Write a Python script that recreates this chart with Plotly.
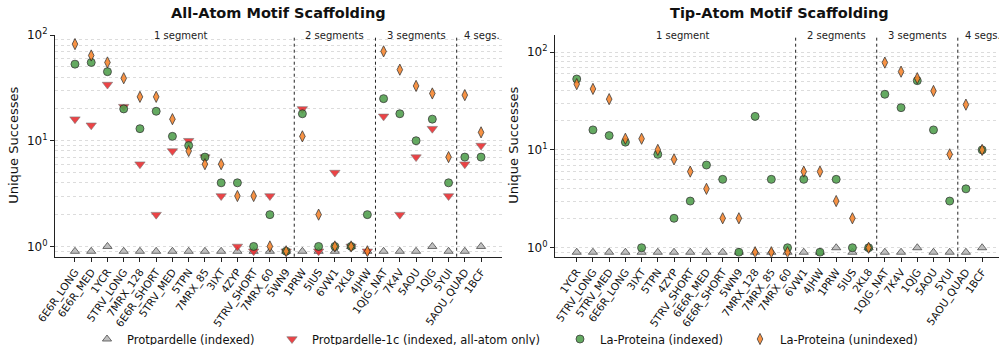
import math
import plotly.graph_objects as go

# ---------------- data ----------------
segment_labels = ["1 segment", "2 segments", "3 segments", "4 segs."]
segment_sizes = [14, 5, 5, 2]

aa_cats = ["6E6R_LONG", "6E6R_MED", "1YCR", "5TRV_LONG", "7MRX_128", "6E6R_SHORT",
           "5TRV_MED", "5TPN", "7MRX_85", "3IXT", "4ZYP", "5TRV_SHORT", "7MRX_60", "5WN9",
           "1PRW", "5IUS", "6VW1", "2KL8", "4JHW",
           "1QJG_NAT", "7K4V", "5AOU", "1QJG", "5YUI",
           "5AOU_QUAD", "1BCF"]
aa_protpardelle = [0, 0, 1, 0, 0, 0, 0, 0, 0, 0, 0, 0, 0, 0,
                   0, 0, 0, 1, 0,
                   0, 0, 0, 1, 0,
                   0, 1]
aa_protpardelle_1c = [16, 14, 34, 21, 6, 2, 8, 10, 7, 3, 1, 0, 3, 0,
                      20, 0, 5, 1, 0,
                      17, 2, 7, 13, 3,
                      6, 9]
aa_laprot_idx = [53, 55, 45, 20, 13, 19, 11, 9, 7, 4, 4, 1, 2, 0,
                 18, 1, 1, 1, 2,
                 25, 18, 10, 16, 4,
                 7, 7]
aa_laprot_unidx = [82, 64, 55, 39, 26, 26, 16, 8, 6, 6, 3, 3, 1, 0,
                   11, 2, 1, 1, 0,
                   70, 47, 33, 28, 7,
                   27, 12]

ta_cats = ["1YCR", "5TRV_LONG", "5TRV_MED", "6E6R_LONG", "3IXT", "5TPN", "4ZYP",
           "5TRV_SHORT", "6E6R_MED", "6E6R_SHORT", "5WN9", "7MRX_128", "7MRX_85", "7MRX_60",
           "6VW1", "4JHW", "1PRW", "5IUS", "2KL8",
           "1QJG_NAT", "7K4V", "1QJG", "5AOU", "5YUI",
           "5AOU_QUAD", "1BCF"]
ta_protpardelle = [0, 0, 0, 0, 0, 0, 0, 0, 0, 0, 0, 0, 0, 0,
                   0, 0, 1, 0, 1,
                   0, 0, 1, 0, 0,
                   0, 1]
ta_laprot_idx = [53, 16, 14, 12, 1, 9, 2, 3, 7, 5, 0, 22, 5, 1,
                 5, 0, 5, 1, 1,
                 37, 27, 51, 16, 3,
                 4, 10]
ta_laprot_unidx = [47, 42, 33, 13, 13, 10, 8, 6, 4, 2, 2, 0, 0, 0,
                   6, 6, 3, 2, 1,
                   78, 63, 54, 40, 9,
                   29, 10]

series_names = ["Protpardelle (indexed)",
                "Protpardelle-1c (indexed, all-atom only)",
                "La-Proteina (indexed)",
                "La-Proteina (unindexed)"]

ZERO_FLOOR = 0.9  # zero counts drawn just below 10^0 on the log axis

FONT = "DejaVu Sans"
W, H = 999, 345


def floor0(vals):
    return [v if v > 0 else ZERO_FLOOR for v in vals]


styles = {
    series_names[0]: dict(symbol="triangle-up", size=8, color="#b8b8b8",
                          line=dict(color="#333333", width=0.8)),
    series_names[1]: dict(symbol="triangle-down", size=9, color="#ea2a2d",
                          line=dict(color="#666666", width=0.6)),
    series_names[2]: dict(symbol="circle", size=8, color="#4f9f4c",
                          line=dict(color="#222222", width=0.8)),
    series_names[3]: dict(symbol="diamond-tall", size=8, color="#f7842b",
                          line=dict(color="#222222", width=0.8)),
}
legend_ids = {name: ("legend" if i == 0 else f"legend{i + 1}") for i, name in enumerate(series_names)}
# left edge (px) of the text of each legend entry
legend_text_x = [127, 312, 600, 780]

fig = go.Figure()

panels = [
    ("x", "y", aa_cats, [(series_names[0], aa_protpardelle),
                         (series_names[1], aa_protpardelle_1c),
                         (series_names[2], aa_laprot_idx),
                         (series_names[3], aa_laprot_unidx)], True),
    ("x2", "y2", ta_cats, [(series_names[0], ta_protpardelle),
                           (series_names[2], ta_laprot_idx),
                           (series_names[3], ta_laprot_unidx)], False),
]

for xa, ya, cats, series, show in panels:
    for name, vals in series:
        fig.add_trace(go.Scatter(
            x=cats, y=floor0(vals), mode="markers", name=name,
            marker=dict(opacity=0.88, **styles[name]),
            xaxis=xa, yaxis=ya, showlegend=show, legendgroup=name,
            legend=legend_ids[name],
            hoverinfo="x+y+name",
        ))

# ---------------- layout geometry ----------------
left_dom = [55 / W, 502 / W]
right_dom = [555 / W, 1.0]
y_dom = [1 - 256.7 / H, 1 - 35 / H]

grid_col = "#dcdcdc"
ytick_vals = [1, 10, 100]
ytick_text = ["10<sup>0</sup>", "10<sup>1</sup>", "10<sup>2</sup>"]


def yaxis_cfg(rng, anchor):
    return dict(
        type="log", range=rng, domain=y_dom, anchor=anchor,
        tickmode="array", tickvals=ytick_vals, ticktext=ytick_text,
        tickfont=dict(family=FONT, size=12, color="#111111"),
        showgrid=True, gridcolor=grid_col, griddash="dot", gridwidth=0.8,
        minor=dict(dtick="D1", showgrid=True, gridcolor=grid_col, griddash="dot",
                   gridwidth=0.8, ticks=""),
        showline=True, linecolor="#222222", linewidth=1,
        ticks="outside", ticklen=4, tickcolor="#222222",
        zeroline=False, automargin=False,
    )


def xaxis_cfg(dom, rng, anchor, cats):
    return dict(
        type="category", categoryorder="array", categoryarray=cats,
        domain=dom, range=rng, anchor=anchor,
        tickangle=-55, tickfont=dict(family=FONT, size=10.5, color="#111111"),
        showgrid=False, showline=True, linecolor="#222222", linewidth=1,
        ticks="outside", ticklen=4, tickcolor="#222222", zeroline=False,
        automargin=False,
    )


legend_layout = {}
for name, tx in zip(series_names, legend_text_x):
    legend_layout[legend_ids[name]] = dict(
        orientation="h", x=(tx - 40) / W, xanchor="left", y=1 - 339 / H, yanchor="middle",
        font=dict(family=FONT, size=11.5, color="#111111"),
        bgcolor="rgba(0,0,0,0)", borderwidth=0, itemwidth=30,
    )

fig.update_layout(
    width=W, height=H,
    margin=dict(l=0, r=0, t=0, b=0, autoexpand=False),
    paper_bgcolor="white", plot_bgcolor="white",
    font=dict(family=FONT, color="#111111"),
    xaxis=xaxis_cfg(left_dom, [-1.23, 26.29], "y", aa_cats),
    yaxis=yaxis_cfg([math.log10(0.8), 2.0], "x"),
    xaxis2=xaxis_cfg(right_dom, [-1.34, 26.04], "y2", ta_cats),
    yaxis2=yaxis_cfg([math.log10(0.81), 2.174], "x2"),
    **legend_layout,
)

# ---------------- dividers & section labels ----------------
shapes = []
annotations = []
for xa in ["x", "x2"]:
    yref = f"{'y' if xa == 'x' else 'y2'} domain"
    start = 0
    for i, (lab, n) in enumerate(zip(segment_labels, segment_sizes)):
        mid = start + (n - 1) / 2
        end = start + n
        annotations.append(dict(
            x=mid, y=1, xref=xa, yref=yref,
            text=lab, showarrow=False, yanchor="middle", xanchor="center",
            xshift=9 if i == len(segment_sizes) - 1 else 0,
            font=dict(family=FONT, size=10, color="#222222"),
        ))
        if i < len(segment_sizes) - 1:
            shapes.append(dict(
                type="line", xref=xa, yref=yref,
                x0=end - 0.5, x1=end - 0.5, y0=0, y1=1,
                line=dict(color="#222222", width=1, dash="dot"),
            ))
        start = end

# titles
for xc, title in [((55 + 502) / 2 / W, "All-Atom Motif Scaffolding"),
                  ((555 + 1003) / 2 / W, "Tip-Atom Motif Scaffolding")]:
    annotations.append(dict(
        x=xc, y=1 - 13.5 / H, xref="paper", yref="paper", showarrow=False,
        text=f"<b>{title}</b>", xanchor="center", yanchor="middle",
        font=dict(family=FONT, size=14.5, color="#111111"),
    ))

# y-axis titles
for xc in [14 / W, 514 / W]:
    annotations.append(dict(
        x=xc, y=1 - (35 + 256.7) / 2 / H, xref="paper", yref="paper", showarrow=False,
        text="Unique Successes", textangle=-90, xanchor="center", yanchor="middle",
        font=dict(family=FONT, size=13, color="#111111"),
    ))

fig.update_layout(shapes=shapes, annotations=annotations)

fig.write_html(
    "out.html",
    config={"displayModeBar": False},
    post_script="document.body.style.margin='0';document.body.style.overflow='hidden';",
)
